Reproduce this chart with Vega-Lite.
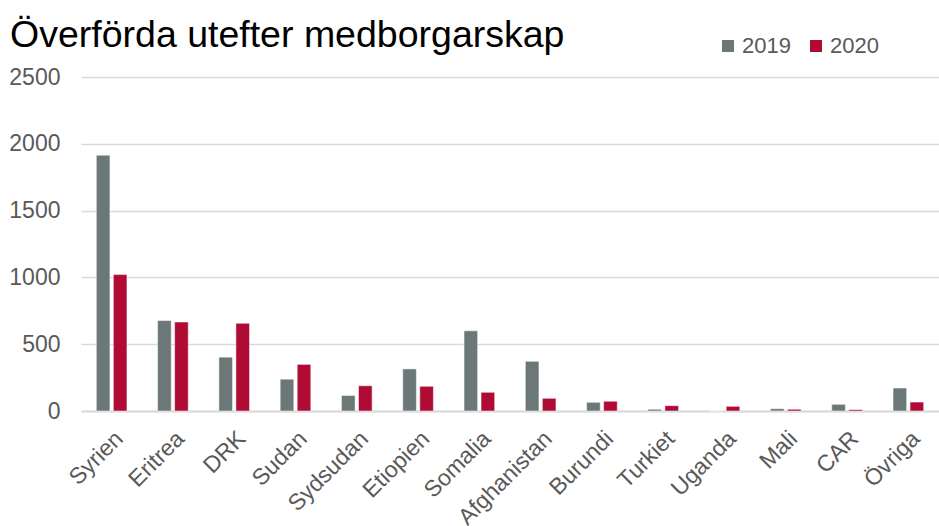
{
  "$schema": "https://vega.github.io/schema/vega-lite/v6.json",
  "width": 858,
  "height": 334,
  "autosize": {"type": "none"},
  "padding": {"left": 81, "top": 77, "right": 0, "bottom": 115},
  "background": "white",
  "config": {
    "font": "Liberation Sans",
    "view": {"stroke": null}
  },
  "title": {
    "text": "Överförda utefter medborgarskap",
    "anchor": "start",
    "frame": "group",
    "dx": -71,
    "offset": -19,
    "fontSize": 37.5,
    "fontWeight": "normal",
    "color": "#000000",
    "font": "Liberation Sans"
  },
  "data": {
    "values": [
      {"land": "Syrien", "year": "2019", "value": 1915},
      {"land": "Syrien", "year": "2020", "value": 1021},
      {"land": "Eritrea", "year": "2019", "value": 677},
      {"land": "Eritrea", "year": "2020", "value": 666},
      {"land": "DRK", "year": "2019", "value": 403},
      {"land": "DRK", "year": "2020", "value": 656},
      {"land": "Sudan", "year": "2019", "value": 238},
      {"land": "Sudan", "year": "2020", "value": 349},
      {"land": "Sydsudan", "year": "2019", "value": 116},
      {"land": "Sydsudan", "year": "2020", "value": 189},
      {"land": "Etiopien", "year": "2019", "value": 315},
      {"land": "Etiopien", "year": "2020", "value": 185},
      {"land": "Somalia", "year": "2019", "value": 600},
      {"land": "Somalia", "year": "2020", "value": 140},
      {"land": "Afghanistan", "year": "2019", "value": 372},
      {"land": "Afghanistan", "year": "2020", "value": 95},
      {"land": "Burundi", "year": "2019", "value": 65},
      {"land": "Burundi", "year": "2020", "value": 73},
      {"land": "Turkiet", "year": "2019", "value": 13},
      {"land": "Turkiet", "year": "2020", "value": 40},
      {"land": "Uganda", "year": "2019", "value": 0},
      {"land": "Uganda", "year": "2020", "value": 35},
      {"land": "Mali", "year": "2019", "value": 17},
      {"land": "Mali", "year": "2020", "value": 13},
      {"land": "CAR", "year": "2019", "value": 50},
      {"land": "CAR", "year": "2020", "value": 10},
      {"land": "Övriga", "year": "2019", "value": 172},
      {"land": "Övriga", "year": "2020", "value": 67}
    ]
  },
  "mark": {"type": "bar", "stroke": "white", "strokeWidth": 0.5},
  "encoding": {
    "x": {
      "field": "land",
      "type": "nominal",
      "sort": null,
      "scale": {"paddingInner": 0.5, "paddingOuter": 0.25},
      "axis": {
        "title": null,
        "labelAngle": -45,
        "labelAlign": "right",
        "labelBaseline": "top",
        "labelFontSize": 23,
        "labelColor": "#595959",
        "labelPadding": 16,
        "labelDx": 1,
        "ticks": false,
        "domainColor": "#D9D9D9",
        "domainWidth": 2,
        "labelOverlap": false
      }
    },
    "xOffset": {
      "field": "year",
      "type": "nominal",
      "scale": {"paddingInner": 0.2, "paddingOuter": 0}
    },
    "y": {
      "field": "value",
      "type": "quantitative",
      "scale": {"domain": [0, 2500], "nice": false},
      "axis": {
        "title": null,
        "values": [0, 500, 1000, 1500, 2000, 2500],
        "format": "d",
        "domain": false,
        "ticks": false,
        "labelFontSize": 23,
        "labelColor": "#595959",
        "labelPadding": 21,
        "gridColor": "#D9D9D9",
        "gridWidth": 1.5
      }
    },
    "color": {
      "field": "year",
      "type": "nominal",
      "scale": {"domain": ["2019", "2020"], "range": ["#6B7877", "#B00B35"]},
      "legend": {
        "title": null,
        "orient": "none",
        "direction": "horizontal",
        "legendX": 636,
        "legendY": -42,
        "symbolType": "square",
        "symbolSize": 144,
        "symbolStrokeWidth": 0,
        "labelFontSize": 22,
        "labelColor": "#595959",
        "labelOffset": 3,
        "columnPadding": 14
      }
    }
  }
}
